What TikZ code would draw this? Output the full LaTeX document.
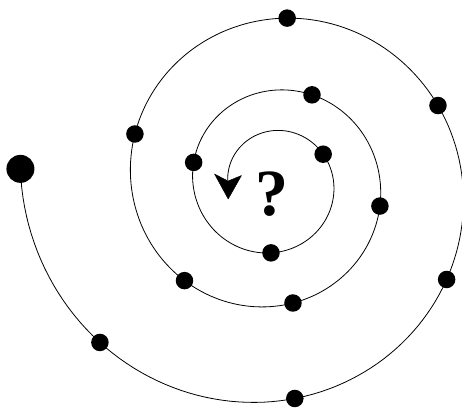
\documentclass[tikz,border=0pt]{standalone}
\usepackage{fontspec}
\setmainfont{Liberation Serif}
\begin{document}
\begin{tikzpicture}[x=1pt,y=-1pt,
  declare function={sprad(\t)=252*exp(-0.0015917*(\t-180));
                    spx(\t)=273.3+sprad(\t)*cos(\t);
                    spy(\t)=183-sprad(\t)*sin(\t);},
  dot/.style={circle,fill=black,inner sep=0pt,minimum size=17.5pt},
  bigdot/.style={circle,fill=black,inner sep=0pt,minimum size=28pt},
  spiral/.style={line width=0.8pt,line cap=round},
  arrowhead/.style={fill=black,draw=black,line width=0.4pt,line join=round}]
\useasboundingbox (0,0) rectangle (462,407);
% spiral line
\draw[spiral] plot[domain=176.8:1256,samples=500] ({spx(\x)},{spy(\x)});
% points on the spiral
\foreach \name/\t in {p0/176.8,p1/222.6,p2/275.7,p3/330.9,p4/385.2,p5/445.2,
  p6/520.5,p7/587.7,p8/639.3,p9/707.8,p10/786.3,p11/885.5,p12/988.1,p13/1110}
  {\coordinate (\name) at ({spx(\t)},{spy(\t)});}
\coordinate (notch) at (228,181);
\coordinate (tip) at (228.2,199);
\coordinate (wl) at (214.5,174);
\coordinate (wr) at (241.5,175.5);
\fill[arrowhead] (tip) -- (wl) .. controls (221,177) .. (notch) .. controls (235,177.5) .. (wr) -- cycle;
\node[bigdot] (n0) at (p0) {};
\foreach \i in {1,...,13} {\node[dot] (n\i) at (p\i) {};}
\node[anchor=base,inner sep=0pt,font=\fontsize{66}{66}\selectfont\bfseries] (q) at (271.5,215) {?};
\end{tikzpicture}
\end{document}
